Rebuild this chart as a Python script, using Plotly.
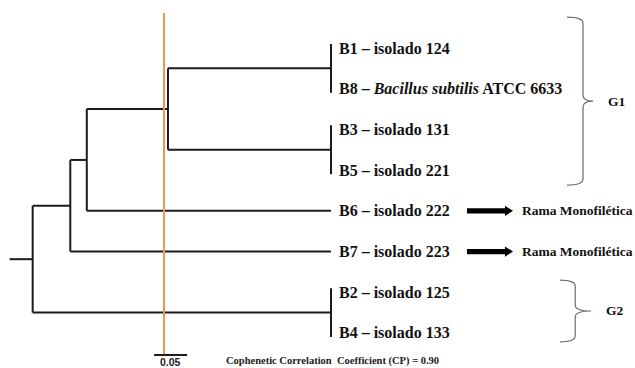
import plotly.graph_objects as go

# ---------------- data ----------------
leaf_ids = ["B1", "B8", "B3", "B5", "B6", "B7", "B2", "B4"]
leaf_labels = [
    "B1 – isolado 124",
    "B8 – <i>Bacillus subtilis</i> ATCC 6633",
    "B3 – isolado 131",
    "B5 – isolado 221",
    "B6 – isolado 222",
    "B7 – isolado 223",
    "B2 – isolado 125",
    "B4 – isolado 133",
]
# merges (UPGMA style): node name, left child, right child, height
merge_names = ["n1", "n2", "n3", "n4", "n5", "n6", "n7"]
merge_left = ["B1", "B3", "n1", "n3", "n4", "B2", "n5"]
merge_right = ["B8", "B5", "n2", "B6", "B7", "B4", "n6"]
merge_height = [0.0, 0.0, 0.247, 0.370, 0.395, 0.0, 0.452]
root_stub_height = 0.487
cutoff = 0.253
scale_length = 0.05
scale_label = "0.05"
cophenetic = 0.90
group_names = ["G1", "G2"]
group_first = ["B1", "B2"]
group_last = ["B5", "B4"]
mono_leaves = ["B6", "B7"]
mono_text = "Rama Monofilética"

# ---------------- tree geometry ----------------
ypos = {lid: i for i, lid in enumerate(leaf_ids)}
hpos = {lid: 0.0 for lid in leaf_ids}
xs, ys = [], []
for name, a, b, h in zip(merge_names, merge_left, merge_right, merge_height):
    for c in (a, b):
        xs += [hpos[c], h, None]
        ys += [ypos[c], ypos[c], None]
    lo, hi = min(ypos[a], ypos[b]), max(ypos[a], ypos[b])
    pad = 0.1 if h == 0 else 0.0
    xs += [h, h, None]
    ys += [lo - pad, hi + pad, None]
    ypos[name] = (ypos[a] + ypos[b]) / 2
    hpos[name] = h
root = merge_names[-1]
xs += [hpos[root], root_stub_height, None]
ys += [ypos[root], ypos[root], None]

fig = go.Figure()
fig.add_trace(go.Scatter(x=xs, y=ys, mode="lines",
                         line=dict(color="#1c1c1c", width=2),
                         hoverinfo="skip", showlegend=False))

n = len(leaf_ids)
y_top = -0.86
y_bar = n - 0.46

# cutoff line
fig.add_trace(go.Scatter(x=[cutoff, cutoff], y=[y_top, y_bar], mode="lines",
                         line=dict(color="#F0964E", width=2),
                         hoverinfo="skip", showlegend=False))
# scale bar
bar_start = cutoff + 0.015
fig.add_trace(go.Scatter(x=[bar_start, bar_start - scale_length], y=[y_bar, y_bar],
                         mode="lines", line=dict(color="#1c1c1c", width=2),
                         hoverinfo="skip", showlegend=False))

annotations = []
serif = "Liberation Serif, Times New Roman, serif"
for lid, lab in zip(leaf_ids, leaf_labels):
    annotations.append(dict(x=-0.009, y=ypos[lid], xref="x", yref="y",
                            text="<b>" + lab + "</b>", showarrow=False,
                            xanchor="left", yanchor="middle",
                            font=dict(family=serif, size=16, color="#111111")))

annotations.append(dict(x=bar_start - scale_length / 2, y=y_bar + 0.17, xref="x", yref="y",
                        text="<b>" + scale_label + "</b>", showarrow=False,
                        xanchor="center", yanchor="middle",
                        font=dict(family="Liberation Sans, Arial, sans-serif", size=10.5, color="#222222")))
annotations.append(dict(x=-0.003, y=y_bar + 0.14, xref="x", yref="y",
                        text="<b>Cophenetic Correlation \u00a0Coefficient (CP) = %.2f</b>" % cophenetic,
                        showarrow=False, xanchor="center", yanchor="middle",
                        font=dict(family=serif, size=10.5, color="#222222")))

shapes = []
# arrows + monophyletic labels
for lid in mono_leaves:
    y = ypos[lid]
    x0, x1, x2 = -0.206, -0.2636, -0.2758
    ht, hh = 0.065, 0.125
    path = (f"M {x0},{y - ht} L {x1},{y - ht} L {x1},{y - hh} L {x2},{y} "
            f"L {x1},{y + hh} L {x1},{y + ht} L {x0},{y + ht} Z")
    shapes.append(dict(type="path", path=path, xref="x", yref="y",
                       fillcolor="#000000", line=dict(width=0)))
    annotations.append(dict(x=-0.2864, y=y, xref="x", yref="y",
                            text="<b>" + mono_text + "</b>", showarrow=False,
                            xanchor="left", yanchor="middle",
                            font=dict(family=serif, size=13.5, color="#111111")))

# braces for groups
brace_geom = {"G1": (-0.76, 0.37, -0.3576, -0.3818, -0.397),
              "G2": (-0.30, 0.22, -0.3470, -0.3700, -0.394)}
for g, f, l in zip(group_names, group_first, group_last):
    pt, pb, xl, xv, xt = brace_geom[g]
    yt = ypos[f] + pt
    yb = ypos[l] + pb
    ym = (yt + yb) / 2
    r = 0.15
    path = (f"M {xl},{yt} Q {xv},{yt} {xv},{yt + r} L {xv},{ym - r} "
            f"Q {xv},{ym} {xt},{ym} Q {xv},{ym} {xv},{ym + r} "
            f"L {xv},{yb - r} Q {xv},{yb} {xl},{yb}")
    shapes.append(dict(type="path", path=path, xref="x", yref="y",
                       line=dict(color="#6a6a6a", width=1.2)))
    annotations.append(dict(x=xt - 0.02, y=ym, xref="x", yref="y",
                            text="<b>" + g + "</b>", showarrow=False,
                            xanchor="left", yanchor="middle",
                            font=dict(family=serif, size=13.5, color="#111111")))

fig.update_layout(
    width=635, height=368,
    margin=dict(l=0, r=0, t=0, b=0),
    paper_bgcolor="white", plot_bgcolor="white",
    xaxis=dict(range=[0.5015, -0.4606], visible=False, showgrid=False, zeroline=False),
    yaxis=dict(range=[(368 - 48) / 40.71, -48 / 40.71], visible=False, showgrid=False, zeroline=False),
    annotations=annotations, shapes=shapes, showlegend=False,
)
fig.write_html("out.html", config={"displayModeBar": False},
               post_script="document.body.style.margin='0';document.body.style.overflow='hidden';")
